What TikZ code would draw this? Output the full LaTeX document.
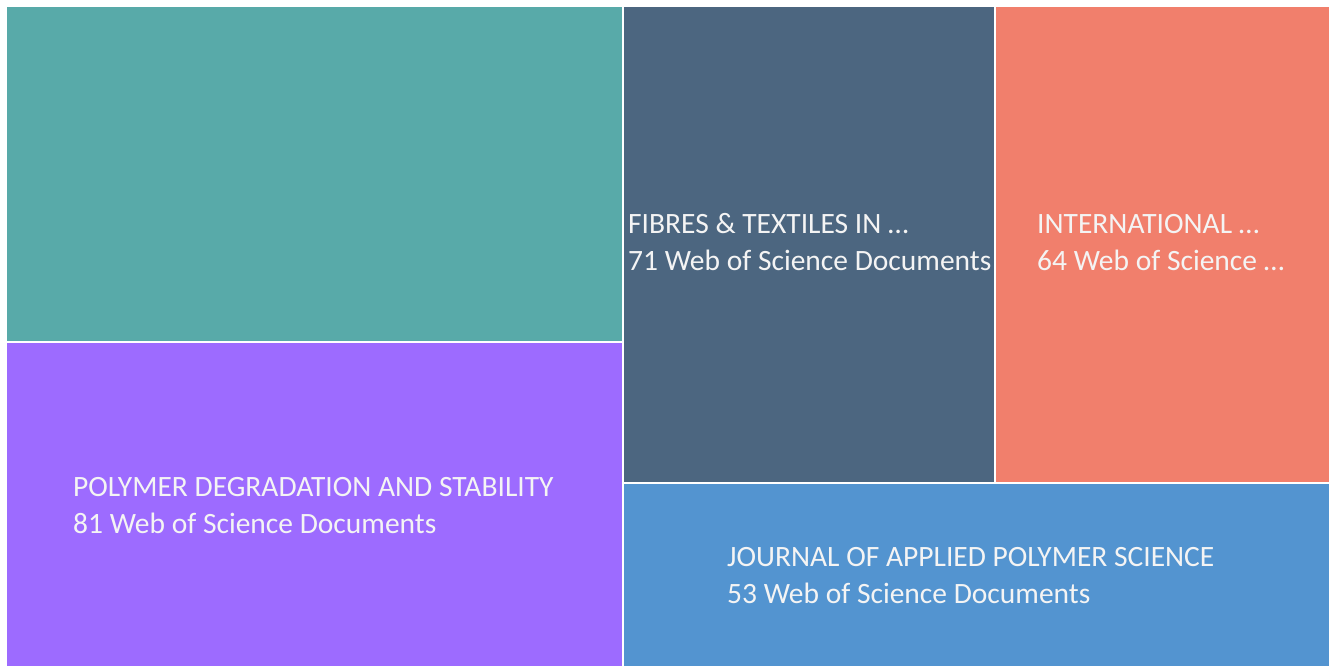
\documentclass[tikz,border=0pt]{standalone}
\usepackage{fontspec}
\setmainfont{Carlito}
\usepackage{xcolor}
\definecolor{tealtile}{HTML}{58AAA9}
\definecolor{purpletile}{HTML}{9D6BFF}
\definecolor{slatetile}{HTML}{4C6680}
\definecolor{salmontile}{HTML}{F17F6C}
\definecolor{bluetile}{HTML}{5394D0}
\definecolor{captext}{HTML}{F4F4F4}

\begin{document}
\begin{tikzpicture}[
    x=1pt,
    y=-1pt,
    tile/.style={rectangle, inner sep=0pt, outer sep=0pt, anchor=north west},
    caption/.style={anchor=base west, inner sep=0pt, align=left,
        text=captext, font=\fontsize{29.5}{36.5}\selectfont}
]
    \useasboundingbox (0,0) rectangle (1331,666);

    % Tiles of the treemap
    \node[tile, fill=tealtile, minimum width=615pt, minimum height=334pt] (teal) at (7,7) {};
    \node[tile, fill=purpletile, minimum width=615pt, minimum height=323pt] (poly) at (7,343) {};
    \node[tile, fill=slatetile, minimum width=370pt, minimum height=475pt] (fibres) at (624,7) {};
    \node[tile, fill=salmontile, minimum width=333pt, minimum height=475pt] (intl) at (996,7) {};
    \node[tile, fill=bluetile, minimum width=705pt, minimum height=182pt] (japs) at (624,484) {};

    % Captions (base = baseline of the second line)
    \node[caption] (fibrestext) at (628,270) {FIBRES \& TEXTILES IN …\\71 Web of Science Documents};
    \node[caption] (intltext) at (1037,270) {INTERNATIONAL …\\64 Web of Science …};
    \node[caption] (polytext) at (73,533) {POLYMER DEGRADATION AND STABILITY\\81 Web of Science Documents};
    \node[caption] (japstext) at (727,603) {JOURNAL OF APPLIED POLYMER SCIENCE\\53 Web of Science Documents};
\end{tikzpicture}
\end{document}
